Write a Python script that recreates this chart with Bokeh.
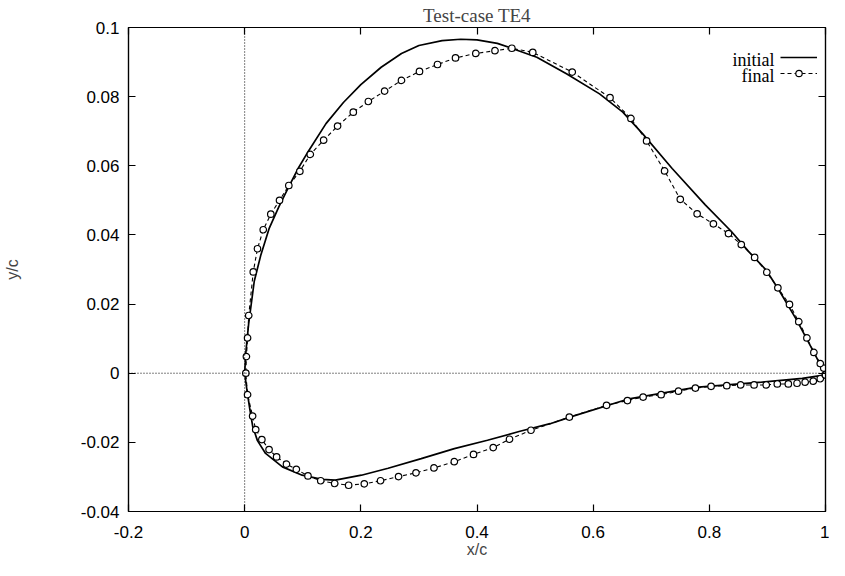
from bokeh.plotting import figure
from bokeh.models import (LinearAxis, FixedTicker, Span, Legend, LegendItem,
                          Label, Range1d)
from bokeh.embed import file_html
from bokeh.resources import INLINE

# ---------------- data ----------------
x_ticks = [-0.2, 0.0, 0.2, 0.4, 0.6, 0.8, 1.0]
x_tick_labels = ["-0.2", "0", "0.2", "0.4", "0.6", "0.8", "1"]
y_ticks = [-0.04, -0.02, 0.0, 0.02, 0.04, 0.06, 0.08, 0.1]
y_tick_labels = ["-0.04", "-0.02", "0", "0.02", "0.04", "0.06", "0.08", "0.1"]

series_names = ["initial", "final"]

# initial contour: trailing edge -> upper surface -> leading edge -> lower surface -> trailing edge
initial_x = [1.000, 0.980, 0.950, 0.920, 0.898, 0.867, 0.838, 0.793, 0.736, 0.685,
             0.651, 0.611, 0.554, 0.503, 0.463, 0.435, 0.400, 0.372, 0.340, 0.300,
             0.270, 0.235, 0.200, 0.170, 0.140, 0.110, 0.093, 0.076, 0.059, 0.042,
             0.028, 0.0165, 0.0068, 0.002, 0.000,
             0.004, 0.009, 0.014, 0.022, 0.036, 0.065, 0.099, 0.133, 0.156, 0.201,
             0.247, 0.304, 0.361, 0.418, 0.474, 0.526, 0.560, 0.662, 0.776, 0.890,
             0.960, 1.000]
initial_y = [-0.0005, 0.0060, 0.0155, 0.0240, 0.0298, 0.0353, 0.0410, 0.0487, 0.0592, 0.0693,
             0.0755, 0.0808, 0.0866, 0.0914, 0.0938, 0.0954, 0.0964, 0.0966, 0.0962, 0.0948,
             0.0925, 0.0885, 0.0835, 0.0783, 0.0722, 0.0643, 0.0595, 0.0540, 0.0482, 0.0418,
             0.0343, 0.0266, 0.0142, 0.0060, 0.0000,
             -0.0050, -0.0105, -0.0155, -0.0195, -0.0232, -0.0271, -0.0295, -0.0307, -0.0309, -0.0295,
             -0.0275, -0.0247, -0.0218, -0.0194, -0.0168, -0.0146, -0.0127, -0.0074, -0.0041, -0.0026,
             -0.0015, -0.0005]

# final contour (optimised shape), same ordering
final_x = [1.000, 0.997, 0.991, 0.980, 0.968, 0.954, 0.938, 0.918, 0.899, 0.878,
           0.855, 0.833, 0.807, 0.779, 0.750, 0.723, 0.692, 0.665, 0.629, 0.564,
           0.496, 0.460, 0.431, 0.398, 0.363, 0.332, 0.301, 0.270, 0.241, 0.213,
           0.187, 0.160, 0.136, 0.113, 0.095, 0.076, 0.060, 0.045, 0.032, 0.022,
           0.0148, 0.007, 0.005, 0.003, 0.002,
           0.005, 0.0137, 0.019, 0.0296, 0.042, 0.055, 0.072, 0.089, 0.109, 0.131,
           0.155, 0.179, 0.206, 0.234, 0.265, 0.295, 0.326, 0.361, 0.394, 0.428,
           0.456, 0.493, 0.559, 0.623, 0.659, 0.686, 0.717, 0.747, 0.776, 0.803,
           0.830, 0.854, 0.877, 0.898, 0.917, 0.936, 0.951, 0.965, 0.979, 0.991,
           1.000]
final_y = [-0.0005, 0.0015, 0.0028, 0.0060, 0.0102, 0.0149, 0.0199, 0.0247, 0.0292, 0.0335,
           0.0372, 0.0404, 0.0432, 0.0461, 0.0503, 0.0585, 0.0672, 0.0737, 0.0797, 0.0871,
           0.0928, 0.0940, 0.0933, 0.0925, 0.0912, 0.0893, 0.0873, 0.0847, 0.0816, 0.0786,
           0.0755, 0.0715, 0.0674, 0.0633, 0.0584, 0.0543, 0.0500, 0.0460, 0.0415, 0.0360,
           0.0293, 0.0167, 0.0102, 0.0048, 0.0000,
           -0.0062, -0.0124, -0.0163, -0.0192, -0.0221, -0.0242, -0.0263, -0.0278, -0.0297, -0.0311,
           -0.0319, -0.0324, -0.0320, -0.0311, -0.0299, -0.0288, -0.0274, -0.0256, -0.0235, -0.0215,
           -0.0191, -0.0165, -0.0127, -0.0093, -0.0079, -0.0069, -0.0062, -0.0052, -0.0043, -0.0038,
           -0.0036, -0.0034, -0.0034, -0.0034, -0.0031, -0.0031, -0.0029, -0.0026, -0.0023, -0.0016,
           -0.0005]

# ---------------- figure ----------------
SANS = "Liberation Sans"
SERIF = "Liberation Serif"

p = figure(width=829, height=560,
           x_range=Range1d(x_ticks[0], x_ticks[-1]),
           y_range=Range1d(y_ticks[0], y_ticks[-1]),
           output_backend="svg", toolbar_location=None,
           min_border_left=128, min_border_right=4,
           min_border_top=27, min_border_bottom=46,
           title="Test-case TE4")
p.title.align = "center"
p.title.text_font = SERIF
p.title.text_font_size = "19px"
p.title.text_font_style = "normal"
p.title.standoff = 4
p.title.offset = 0

p.xgrid.visible = False
p.ygrid.visible = False
p.outline_line_color = "black"
p.outline_line_width = 1.2
p.background_fill_color = "white"
p.border_fill_color = "white"

def style_axis(ax, ticks, labels, show_labels=True):
    ax.ticker = FixedTicker(ticks=ticks)
    ax.major_label_overrides = {t: l for t, l in zip(ticks, labels)}
    ax.major_tick_in = 7
    ax.major_tick_out = 0
    ax.major_tick_line_color = "black"
    ax.major_tick_line_width = 1.2
    ax.minor_tick_line_color = None
    ax.axis_line_color = "black"
    ax.axis_line_width = 1.2
    ax.major_label_text_font = SANS
    ax.major_label_text_color = "black"
    if show_labels:
        ax.major_label_text_font_size = "17px"
    else:
        ax.major_label_text_font_size = "0px"
        ax.major_label_standoff = 0

xa = p.xaxis[0]
style_axis(xa, x_ticks, x_tick_labels)
xa.major_label_standoff = 14
xa.axis_label = "x/c"
xa.axis_label_text_font = SANS
xa.axis_label_text_font_size = "16px"
xa.axis_label_text_font_style = "normal"
xa.axis_label_standoff = 0

ya = p.yaxis[0]
style_axis(ya, y_ticks, y_tick_labels)
ya.major_label_standoff = 9
ya.axis_label = "y/c"
ya.axis_label_text_font = SANS
ya.axis_label_text_font_size = "16px"
ya.axis_label_text_font_style = "normal"
ya.axis_label_standoff = 57

# mirrored inward ticks on the top and right edges (gnuplot style)
top_ax = LinearAxis()
style_axis(top_ax, x_ticks, x_tick_labels, show_labels=False)
p.add_layout(top_ax, "above")
right_ax = LinearAxis()
style_axis(right_ax, y_ticks, y_tick_labels, show_labels=False)
p.add_layout(right_ax, "right")

# zero axes (dotted)
p.add_layout(Span(location=0, dimension="height", line_color="black",
                  line_width=1, line_dash="1 2"))
p.add_layout(Span(location=0, dimension="width", line_color="black",
                  line_width=1, line_dash="1 2"))

# curves
r_init = p.line(initial_x, initial_y, line_color="black", line_width=1.7)
r_fin_line = p.line(final_x, final_y, line_color="black", line_width=1.1,
                    line_dash="4 3")
r_fin_pts = p.scatter(final_x, final_y, marker="circle", size=6.5,
                      fill_color="white", line_color="black", line_width=1.2)

# legend: gnuplot style (text left, sample right)
legend = Legend(items=[LegendItem(label=" ", renderers=[r_init]),
                       LegendItem(label=" ", renderers=[r_fin_line, r_fin_pts])],
                location=(652, 430), orientation="vertical",
                glyph_width=37, glyph_height=16, label_width=0, label_height=16,
                label_standoff=0, padding=0, margin=0, spacing=0,
                border_line_color=None, background_fill_alpha=0,
                label_text_font_size="14px")
p.add_layout(legend, "center")

for name, yy in zip(series_names, [0.0905, 0.0859]):
    p.add_layout(Label(x=0.912, y=yy, text=name, text_align="right",
                       text_baseline="middle", text_font=SERIF,
                       text_font_size="18px", text_color="black"))

open("out.html", "w").write(file_html(p, INLINE))
